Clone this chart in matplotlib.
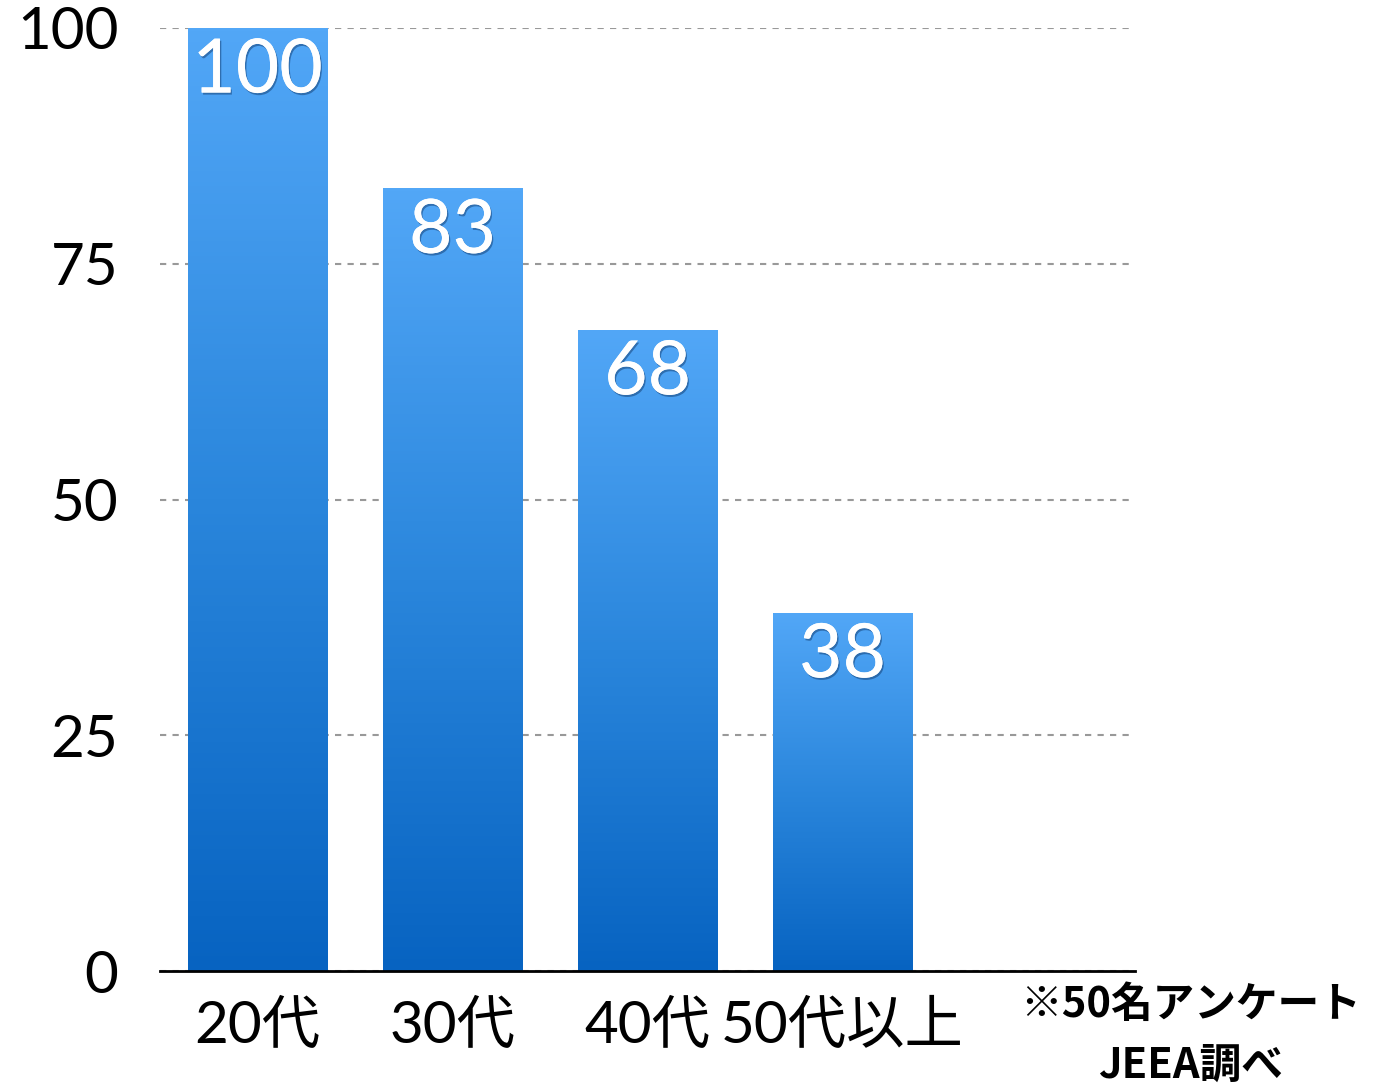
import numpy as np
import matplotlib
matplotlib.use('Agg')
import matplotlib.pyplot as plt
import matplotlib.patheffects as pe
from matplotlib.colors import LinearSegmentedColormap

plt.rcParams['font.family'] = ['Lato', 'Noto Sans CJK JP', 'DejaVu Sans']

categories = ['20代', '30代', '40代', '50代以上']
values = [100, 83, 68, 38]
yticks = [0, 25, 50, 75, 100]
note_lines = ['※50名アンケート', 'JEEA調べ']

# 棒のグラデーション（下が濃い青、上が明るい青）
cmap = LinearSegmentedColormap.from_list('bluegrad', ['#0763c1', '#2a86dc', '#52a7f7'])
grad = np.linspace(0, 1, 256).reshape(-1, 1)

fig = plt.figure(figsize=(13.81, 10.84), dpi=100)
ax = fig.add_axes([0.1159, 0.1042, 0.706, 0.870])

x = np.arange(len(categories))
bars = ax.bar(x, values, width=0.713, color='none', edgecolor='none', zorder=2)
for b in bars:
    x0, y0 = b.get_x(), b.get_y()
    w, h = b.get_width(), b.get_height()
    im = ax.imshow(grad, cmap=cmap, origin='lower', aspect='auto',
                   extent=[x0, x0 + w, y0, y0 + h], zorder=2)
    im.set_clip_path(b)

for xi, v in zip(x, values):
    ax.annotate(str(v), (xi, v), xytext=(0, -31), textcoords='offset points',
                ha='center', va='center', color='white', fontsize=54,
                zorder=4,
                path_effects=[pe.withSimplePatchShadow(offset=(1, -1.5),
                                                       shadow_rgbFace='#0b2f5e',
                                                       alpha=0.45),
                              pe.Normal()])

ax.set_xlim(-0.5, 4.5)
ax.set_ylim(0, 100)
ax.set_yticks(yticks)
ax.set_xticks(x)
ax.set_xticklabels(categories)
ax.tick_params(axis='both', length=0, labelsize=42, colors='black')
ax.tick_params(axis='y', pad=30)
ax.tick_params(axis='x', pad=21)

ax.yaxis.grid(True, linestyle=(0, (3, 3)), color='#999999', linewidth=1.5, zorder=0)
ax.set_axisbelow(True)
for s in ['top', 'right', 'left']:
    ax.spines[s].set_visible(False)
ax.spines['bottom'].set_linewidth(2)
ax.spines['bottom'].set_zorder(5)

fig.text(0.862, 0.073, note_lines[0], ha='center', va='center',
         fontsize=30, fontweight='bold', family=['Noto Sans CJK JP'])
fig.text(0.862, 0.017, note_lines[1], ha='center', va='center',
         fontsize=30, fontweight='bold', family=['Noto Sans CJK JP'])

plt.savefig('out.png', dpi=100)
